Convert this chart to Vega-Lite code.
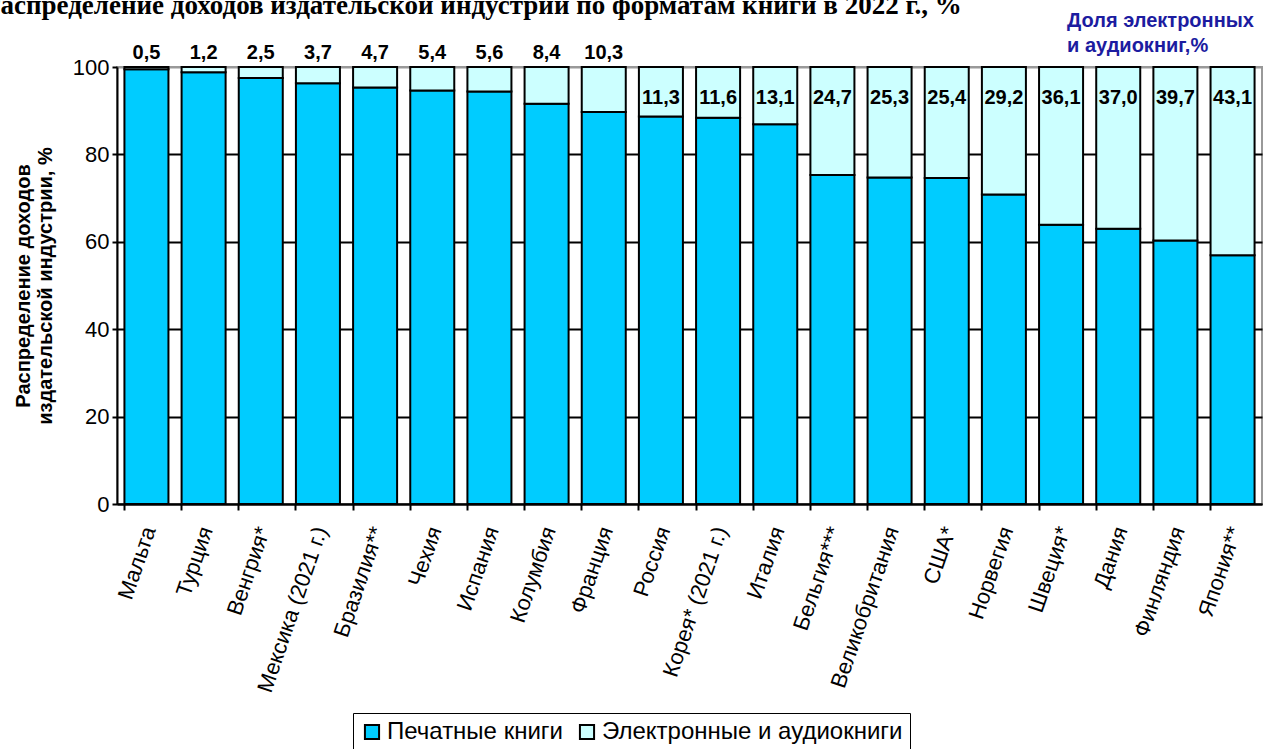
{
  "$schema": "https://vega.github.io/schema/vega-lite/v6.json",
  "width": 1145,
  "height": 437,
  "autosize": "none",
  "padding": {"left": 117, "top": 67, "right": 6, "bottom": 245},
  "background": "white",
  "config": {
    "view": {"stroke": "#999999", "strokeWidth": 2},
    "font": "Liberation Sans",
    "locale": {"number": {"decimal": ",", "thousands": " ", "grouping": [3], "currency": ["", ""]}}
  },
  "title": {
    "text": "Распределение доходов издательской индустрии по форматам книги в 2022 г., %",
    "anchor": "start",
    "frame": "group",
    "font": "Liberation Serif",
    "fontSize": 27,
    "fontWeight": "bold",
    "color": "black",
    "baseline": "alphabetic",
    "dx": -133,
    "dy": 26,
    "offset": -4
  },
  "data": {
    "values": [
      {"country": "Мальта", "format": "Печатные книги", "share": 99.5},
      {"country": "Турция", "format": "Печатные книги", "share": 98.8},
      {"country": "Венгрия*", "format": "Печатные книги", "share": 97.5},
      {"country": "Мексика (2021 г.)", "format": "Печатные книги", "share": 96.3},
      {"country": "Бразилия**", "format": "Печатные книги", "share": 95.3},
      {"country": "Чехия", "format": "Печатные книги", "share": 94.6},
      {"country": "Испания", "format": "Печатные книги", "share": 94.4},
      {"country": "Колумбия", "format": "Печатные книги", "share": 91.6},
      {"country": "Франция", "format": "Печатные книги", "share": 89.7},
      {"country": "Россия", "format": "Печатные книги", "share": 88.7},
      {"country": "Корея* (2021 г.)", "format": "Печатные книги", "share": 88.4},
      {"country": "Италия", "format": "Печатные книги", "share": 86.9},
      {"country": "Бельгия***", "format": "Печатные книги", "share": 75.3},
      {"country": "Великобритания", "format": "Печатные книги", "share": 74.7},
      {"country": "США*", "format": "Печатные книги", "share": 74.6},
      {"country": "Норвегия", "format": "Печатные книги", "share": 70.8},
      {"country": "Швеция*", "format": "Печатные книги", "share": 63.9},
      {"country": "Дания", "format": "Печатные книги", "share": 63.0},
      {"country": "Финляндия", "format": "Печатные книги", "share": 60.3},
      {"country": "Япония**", "format": "Печатные книги", "share": 56.9},
      {"country": "Мальта", "format": "Электронные и аудиокниги", "share": 0.5},
      {"country": "Турция", "format": "Электронные и аудиокниги", "share": 1.2},
      {"country": "Венгрия*", "format": "Электронные и аудиокниги", "share": 2.5},
      {"country": "Мексика (2021 г.)", "format": "Электронные и аудиокниги", "share": 3.7},
      {"country": "Бразилия**", "format": "Электронные и аудиокниги", "share": 4.7},
      {"country": "Чехия", "format": "Электронные и аудиокниги", "share": 5.4},
      {"country": "Испания", "format": "Электронные и аудиокниги", "share": 5.6},
      {"country": "Колумбия", "format": "Электронные и аудиокниги", "share": 8.4},
      {"country": "Франция", "format": "Электронные и аудиокниги", "share": 10.3},
      {"country": "Россия", "format": "Электронные и аудиокниги", "share": 11.3},
      {"country": "Корея* (2021 г.)", "format": "Электронные и аудиокниги", "share": 11.6},
      {"country": "Италия", "format": "Электронные и аудиокниги", "share": 13.1},
      {"country": "Бельгия***", "format": "Электронные и аудиокниги", "share": 24.7},
      {"country": "Великобритания", "format": "Электронные и аудиокниги", "share": 25.3},
      {"country": "США*", "format": "Электронные и аудиокниги", "share": 25.4},
      {"country": "Норвегия", "format": "Электронные и аудиокниги", "share": 29.2},
      {"country": "Швеция*", "format": "Электронные и аудиокниги", "share": 36.1},
      {"country": "Дания", "format": "Электронные и аудиокниги", "share": 37.0},
      {"country": "Финляндия", "format": "Электронные и аудиокниги", "share": 39.7},
      {"country": "Япония**", "format": "Электронные и аудиокниги", "share": 43.1}
    ]
  },
  "encoding": {
    "x": {
      "field": "country",
      "type": "nominal",
      "scale": {
        "domain": ["Мальта", "Турция", "Венгрия*", "Мексика (2021 г.)", "Бразилия**", "Чехия", "Испания", "Колумбия", "Франция", "Россия", "Корея* (2021 г.)", "Италия", "Бельгия***", "Великобритания", "США*", "Норвегия", "Швеция*", "Дания", "Финляндия", "Япония**"],
        "paddingInner": 0.23,
        "paddingOuter": 0.13
      },
      "axis": {
        "title": null,
        "bandPosition": 0,
        "labelAngle": -71,
        "labelFontSize": 22,
        "labelColor": "black",
        "labelPadding": 17,
        "labelOffset": 3,
        "labelAlign": "right",
        "labelBaseline": "middle",
        "labelLimit": 0,
        "domainColor": "black",
        "domainWidth": 2,
        "tickColor": "black",
        "tickWidth": 2,
        "tickSize": 6,
        "grid": false
      }
    }
  },
  "layer": [
    {
      "mark": {"type": "bar", "stroke": "black", "strokeWidth": 2},
      "encoding": {
        "y": {
          "field": "share",
          "type": "quantitative",
          "stack": "zero",
          "scale": {"domain": [0, 100], "nice": false},
          "axis": {
            "title": ["Распределение доходов", "издательской индустрии, %"],
            "titleFontSize": 20,
            "titleFontWeight": "bold",
            "titleColor": "black",
            "titlePadding": 17,
            "values": [0, 20, 40, 60, 80, 100],
            "labelFontSize": 22,
            "labelColor": "black",
            "labelPadding": 3,
            "domainColor": "black",
            "domainWidth": 2,
            "tickColor": "black",
            "tickWidth": 2,
            "tickSize": 5,
            "grid": true,
            "gridColor": {"condition": {"test": "datum.value == 100", "value": "#999999"}, "value": "black"},
            "gridWidth": 2
          }
        },
        "color": {
          "field": "format",
          "type": "nominal",
          "scale": {"domain": ["Печатные книги", "Электронные и аудиокниги"], "range": ["#00CCFF", "#CCFFFF"]},
          "legend": {
            "orient": "none",
            "legendX": 236,
            "legendY": 646,
            "direction": "horizontal",
            "title": null,
            "symbolType": "square",
            "symbolSize": 200,
            "symbolStrokeColor": "black",
            "symbolStrokeWidth": 2,
            "labelFontSize": 24,
            "labelColor": "black",
            "labelLimit": 0,
            "labelOffset": 3,
            "columnPadding": 12,
            "strokeColor": "black",
            "padding": 7
          }
        },
        "order": {"field": "format", "sort": "ascending"}
      }
    },
    {
      "transform": [{"filter": "datum.format == 'Электронные и аудиокниги' && datum.share < 11"}],
      "mark": {"type": "text", "fontSize": 20, "fontWeight": "bold", "color": "black", "baseline": "alphabetic", "dy": -8},
      "encoding": {
        "y": {"datum": 100, "type": "quantitative"},
        "text": {"field": "share", "type": "quantitative", "format": ".1f"}
      }
    },
    {
      "transform": [{"filter": "datum.format == 'Электронные и аудиокниги' && datum.share >= 11"}],
      "mark": {"type": "text", "fontSize": 20, "fontWeight": "bold", "color": "black", "baseline": "alphabetic", "dy": 37},
      "encoding": {
        "y": {"datum": 100, "type": "quantitative"},
        "text": {"field": "share", "type": "quantitative", "format": ".1f"}
      }
    },
    {
      "data": {"values": [{}]},
      "mark": {"type": "text", "text": ["Доля электронных", "и аудиокниг,%"], "fontSize": 20, "fontWeight": "bold", "color": "#1C1CA0", "align": "left", "baseline": "alphabetic", "dx": 6, "dy": -40, "lineHeight": 25},
      "encoding": {
        "x": {"datum": "Швеция*", "type": "nominal"},
        "y": {"datum": 100, "type": "quantitative"}
      }
    }
  ]
}
